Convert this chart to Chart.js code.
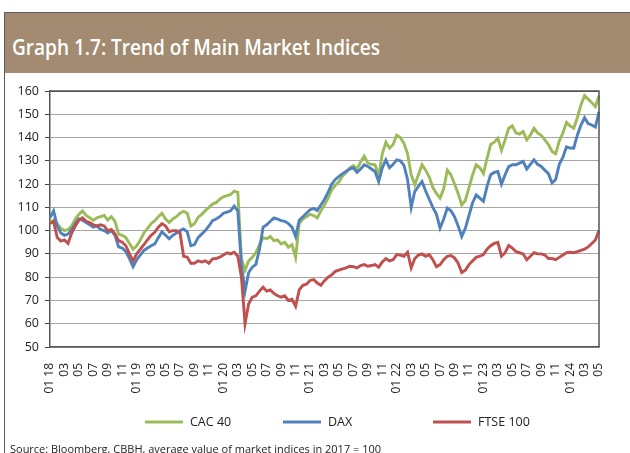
<!DOCTYPE html>
<html><head><meta charset="utf-8">
<script src="https://cdn.jsdelivr.net/npm/chart.js@4/dist/chart.umd.min.js"></script>
<style>
html,body{margin:0;padding:0;background:#fff;width:630px;height:453px;overflow:hidden;position:relative;font-family:"Open Sans",sans-serif;}
#frameTop{position:absolute;left:4px;top:12px;width:626px;height:1px;background:#5a5a5a;}
#frameLeft{position:absolute;left:4px;top:12px;width:1px;height:441px;background:#5a5a5a;}
#band{position:absolute;left:5px;top:13px;width:625px;height:60px;background:#a28b70;}
#title{position:absolute;left:12px;top:33px;color:#fff;font:600 21px "Open Sans";white-space:nowrap;transform-origin:0 0;}
#chartBox{position:absolute;left:5px;top:75px;width:625px;height:370px;}
#source{position:absolute;left:10px;top:441px;font:11px "Open Sans";color:#222;white-space:nowrap;transform-origin:0 0;}
</style>
</head><body>
<div id="frameTop"></div><div id="frameLeft"></div>
<div id="band"></div>
<div id="title">Graph 1.7: Trend of Main Market Indices</div>
<div id="chartBox"><canvas id="c" width="625" height="370"></canvas></div>
<div id="source">Source: Bloomberg, CBBH,  average value of market indices in 2017 = 100</div>
<script>
// x-axis tick labels (every two months)
const tickLabels = ["01 18","03","05","07","09","11","01 19","03","05","07","09","11","01 20","03","05","07","09","11","01 21","03","05","07","09","11","01 22","03","05","07","09","11","01 23","03","05","07","09","11","01 24","03","05"];

// semi-monthly observations, Jan 2018 - May 2024 (average 2017 = 100)
const cac40 = [103.5,104.5,103,101,100,100.5,102,105,107,108.5,106.5,105.5,104.5,105.5,106,106.5,104.5,106,104,98.5,98,97,94.5,92,93.5,96,99,101,103,104.3,106,107.5,105,103.5,105,106,107.5,108.3,107.5,102,103,105.7,107,108.6,110,111.4,112,113.5,114.5,115,115.5,117,116.5,88,83,87,88.6,90.5,94,97,96.5,97.5,95.7,96,94.3,95,92.9,94,88.5,103,105,106,107,106.5,105.5,108.5,111,114,117.5,119.5,121,123.5,125,127,128,126.5,129.5,132,129,128.5,128.3,123.5,133,138,135.4,137,141,140,137.5,133,124,119.7,124,128.3,126,123,118.5,116,114,118,126,124,120,116,111,113,118.5,124,128.3,127,124.5,131,137,138,139.7,134.5,139,144,145,142,141.5,142.6,139,141,144,142,141,139,137,134,133,138.5,142,146.5,145,144,148.5,154,158,156.5,155,153.3,158];
const dax = [105.5,108.5,102,99,98,98.5,100.5,103,105,104.5,103.5,102.5,101.5,102,100.5,100,99,100,98,93,92.5,91,88,84.5,87.5,89.5,91.5,92.5,93.5,94.3,97,99.5,98,96.5,98,99,100,100.7,99.5,93.5,94,97,98.5,100,102,104.3,105,106,107.5,108,108.5,110.5,108.5,85,74,82,84.3,85.5,92,101.5,102.5,104,105.5,105,104.3,104,103,101.5,97.5,104.5,106,107.5,109,109.5,108.6,111,113.5,116.5,120,122,123.3,124.5,125.5,126.5,127,125,126.5,128.3,127.6,126.5,125.4,121.1,127,130.4,127,128.5,130.4,130,128,122,110,116.9,119,121.1,117,113.5,110,107,101.1,105,109.7,108.5,106,102,97.5,101,106.5,112,115.4,114,112.6,119,124,125,125.4,120,124,127.5,128.3,128.3,129,129.7,126.5,128.5,130.4,128.5,127.6,126,124.5,120.5,122,128.5,131.5,136,135.5,135.4,141,145.4,148.5,146,145.4,144.5,151];
const ftse100 = [103,104,97,95.5,96,94.5,99,102,104.5,105.5,104,103.5,102.5,102,102.5,102,100,100.5,98.5,95.7,95,93.5,90,87,90,92,94,96,98,99.3,101.5,103,102,99.5,100,100,99,89,88.6,86,86,87,86.5,87,86,87.9,88,88.6,89.5,90.5,90,90.7,89,80,60,68.6,71.4,72,74,75.7,74,74.5,73,72,71.4,72,70,70.5,67.5,74.5,76.5,77,78.6,79,77.5,76.5,78.5,80,81,82.5,83,83.6,84,84.7,84.5,84,85,85.4,84.7,85,85.4,84.3,86.5,88,87,87.5,89.7,89.5,89,90.7,84,88,89.5,90,89,89.7,87.5,84.5,85.4,87.5,89,89.3,88.3,86,82,83,85.4,87,88.5,89,89.7,92,93.5,94.5,95,89,90.5,93.6,92.5,91,90.5,90,87.5,89,90.5,90,90,89.5,88,88,87.5,88.5,89.5,90.5,90.7,90.5,91,91.5,92,93,94.5,96,100];

// category dates (1st and 15th of each month)
const categories = [];
for (let y = 2018; y <= 2024; y++) {
  for (let m = 1; m <= 12; m++) {
    const mm = String(m).padStart(2, '0');
    if (y === 2024 && m > 5) break;
    categories.push(y + '-' + mm + '-01');
    if (y === 2024 && m === 5) break;
    categories.push(y + '-' + mm + '-15');
  }
}

const seriesNames = ['CAC 40', 'DAX', 'FTSE 100'];
const seriesColors = ['#9bbb59', '#4f81bd', '#c0504d'];
const seriesValues = [cac40, dax, ftse100];

const FONT = 'Open Sans';

const framePlugin = {
  id: 'frame',
  afterDatasetsDraw(chart) {
    const {ctx, chartArea: a} = chart;
    ctx.save();
    ctx.strokeStyle = '#555';
    ctx.lineWidth = 1.5;
    ctx.beginPath();
    ctx.moveTo(a.left, a.top); ctx.lineTo(a.right, a.top); ctx.lineTo(a.right, a.bottom);
    ctx.stroke();
    ctx.restore();
  }
};

const legendPlugin = {
  id: 'customLegend',
  afterDraw(chart) {
    const ctx = chart.ctx;
    const starts = [140, 278, 428];
    const y = 347;
    ctx.save();
    chart.data.datasets.forEach((ds, i) => {
      const x = starts[i];
      ctx.strokeStyle = ds.borderColor;
      ctx.lineWidth = 3;
      ctx.beginPath(); ctx.moveTo(x, y); ctx.lineTo(x + 38, y); ctx.stroke();
      ctx.fillStyle = '#222';
      ctx.font = '12.5px "' + FONT + '"';
      ctx.textBaseline = 'middle';
      ctx.textAlign = 'left';
      ctx.fillText(ds.label, x + 45, y);
    });
    ctx.restore();
  }
};

function fitWidth(id, target) {
  const el = document.getElementById(id);
  const w = el.getBoundingClientRect().width;
  if (w > 0) el.style.transform = 'scaleX(' + (target / w) + ')';
}
fitWidth('title', 368);
fitWidth('source', 371);

new Chart(document.getElementById('c'), {
  type: 'line',
  data: {
    labels: categories,
    datasets: seriesValues.map((vals, i) => ({
      label: seriesNames[i],
      data: vals,
      borderColor: seriesColors[i],
      backgroundColor: seriesColors[i],
      borderWidth: 2.9,
      pointRadius: 0,
      tension: 0,
      order: 3 - i
    }))
  },
  options: {
    responsive: false,
    animation: false,
    devicePixelRatio: 1,
    layout: {padding: {top: 16, right: 31, left: 0, bottom: 39}},
    plugins: {legend: {display: false}, tooltip: {enabled: false}},
    scales: {
      x: {
        grid: {display: false, drawTicks: false},
        border: {display: true, color: '#555', width: 1.5},
        ticks: {
          autoSkip: false, maxRotation: 90, minRotation: 90, padding: 16,
          color: '#222', font: {family: FONT, size: 12},
          callback: (v, i) => (i % 4 === 0 ? tickLabels[i / 4] : null)
        },
        afterFit: s => { s.height = 59; }
      },
      y: {
        min: 50, max: 160,
        ticks: {stepSize: 10, padding: 6, color: '#222', font: {family: FONT, size: 12.5}},
        grid: {
          color: c => (c.tick && c.tick.value === 160 ? '#444' : '#a6a6a6'),
          lineWidth: 1, tickLength: 5, tickColor: '#444'
        },
        border: {color: '#555', width: 1.5},
        afterFit: s => { s.width = 45; }
      }
    }
  },
  plugins: [framePlugin, legendPlugin]
});
</script>
</body></html>
